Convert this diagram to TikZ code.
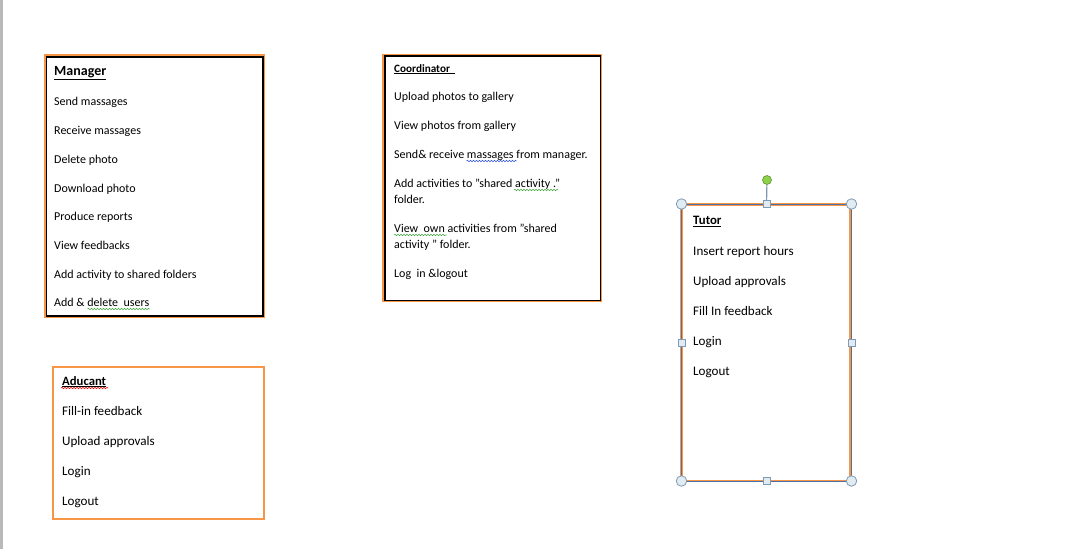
\documentclass[tikz,border=0pt]{standalone}
\usepackage{fontspec}
\setmainfont{Carlito}
\usetikzlibrary{decorations.pathmorphing}
\definecolor{boxorange}{HTML}{F79646}
\definecolor{selblue}{HTML}{4A72A8}
\definecolor{handlefill}{HTML}{E1ECF2}
\definecolor{handledraw}{HTML}{7F9AB5}
\definecolor{rotgreen}{HTML}{8CD14A}
\definecolor{spellgreen}{HTML}{3FA63F}
\definecolor{spellblue}{HTML}{3050E0}

\tikzset{
	item/.style = {anchor=base west, inner sep=0pt, font=\fontsize{12}{14}\selectfont},
	wideitem/.style = {item, font=\fontsize{13.1}{15}\selectfont},
	head/.style = {anchor=base west, inner sep=0pt, font=\bfseries\fontsize{#1}{14}\selectfont},
	panel/.style = {anchor=north west, inner sep=0pt, outer sep=0pt},
	spell/.style = {draw=#1, line width=0.55pt, decorate, decoration={snake, segment length=3pt, amplitude=0.7pt}},
	cornerhandle/.style = {circle, draw=handledraw, fill=handlefill, line width=0.8pt, minimum size=10.5pt, inner sep=0pt},
	sidehandle/.style = {rectangle, draw=handledraw, fill=handlefill, line width=0.8pt, minimum size=7pt, inner sep=0pt},
	rothandle/.style = {circle, draw=rotgreen!70!black, fill=rotgreen, line width=0.6pt, minimum size=9pt, inner sep=0pt}
}

\begin{document}
\begin{tikzpicture}[x=1pt,y=-1pt]
	\useasboundingbox (0,0) rectangle (1072,549);
	\fill[gray!55] (0,0) rectangle (3,549);

	% Manager
	\node[panel, draw=boxorange, line width=1.8pt, minimum width=219pt, minimum height=262pt] (managerback) at (45,55) {};
	\node[panel, draw=black, line width=1.2pt, minimum width=216.5pt, minimum height=259pt] (manager) at (46.5,57) {};
		\node[head=14] (mhead) at (54,75) {\underline{Manager}};
		\node[item] (m1) at (54,105) {Send massages};
		\node[item] (m2) at (54,134) {Receive massages};
		\node[item] (m3) at (54,163) {Delete photo};
		\node[item] (m4) at (54,192) {Download photo};
		\node[item] (m5) at (54,220) {Produce reports};
		\node[item] (m6) at (54,249) {View feedbacks};
		\node[item] (m7) at (54,278) {Add activity to shared folders};
		\node[item] (m8) at (54,306) {Add \& delete\ \ users};
		\draw[spell=spellgreen] ([shift={(33.5,3)}]m8.base west) -- ([shift={(95.5,3)}]m8.base west);

	% Coordinator
	\node[panel, draw=boxorange, line width=2pt, minimum width=218pt, minimum height=245.5pt] (coordback) at (383,55) {};
	\node[panel, draw=black, line width=1.2pt, minimum width=215.5pt, minimum height=244.5pt] (coordinator) at (385,56) {};
		\node[head=11.2] (chead) at (394,72) {\underline{Coordinator\ \ }};
		\node[item] (c1) at (394,100) {Upload photos to gallery};
		\node[item] (c2) at (394,129) {View photos from gallery};
		\node[item] (c3) at (394,158) {Send\& receive massages from manager.};
		\node[item] (c4) at (394,187) {Add activities to "shared activity ."};
		\node[item] (c5) at (394,203) {folder.};
		\node[item] (c6) at (394,232) {View\ \ own activities from "shared};
		\node[item] (c7) at (394,248) {activity " folder.};
		\node[item] (c8) at (394,277) {Log\ \ in \&logout};
		\draw[spell=spellblue] ([shift={(72.5,3)}]c3.base west) -- ([shift={(122.5,3)}]c3.base west);
		\draw[spell=spellgreen] ([shift={(120,3)}]c4.base west) -- ([shift={(164,3)}]c4.base west);
		\draw[spell=spellgreen] ([shift={(0,3)}]c6.base west) -- ([shift={(52.5,3)}]c6.base west);

	% Aducant
	\node[panel, draw=boxorange, line width=2pt, minimum width=211pt, minimum height=152.5pt] (aducant) at (52.5,366.5) {};
		\node[head=12.7] (ahead) at (62,385) {\underline{Aducant}};
		\draw[spell=red] ([shift={(-1,3)}]ahead.base west) -- ([shift={(46,3)}]ahead.base west);
		\node[wideitem] (a1) at (62,415) {Fill-in feedback};
		\node[wideitem] (a2) at (62,445.5) {Upload approvals};
		\node[wideitem] (a3) at (62,475.5) {Login};
		\node[wideitem] (a4) at (62,505.5) {Logout};

	% Tutor
	\node[panel, draw=boxorange, line width=2.6pt, minimum width=169pt, minimum height=276.5pt] (tutorback) at (681.5,204.5) {};
	\node[panel, draw=selblue, line width=0.9pt, minimum width=170pt, minimum height=277pt] (tutor) at (681.5,204) {};
		\node[head=12.8] (thead) at (693,224.5) {\underline{Tutor}};
		\node[wideitem] (t1) at (693,255) {Insert report hours};
		\node[wideitem] (t2) at (693,285) {Upload approvals};
		\node[wideitem] (t3) at (693,315) {Fill In feedback};
		\node[wideitem] (t4) at (693,345) {Login};
		\node[wideitem] (t5) at (693,375.5) {Logout};

	% handles of the selected Tutor box
	\node[rothandle] (rot) at (767,180) {};
	\node[sidehandle] (hn) at (tutor.north) {};
	\draw[handledraw, line width=1.2pt] (rot) -- (hn);
	\node[sidehandle] (hs) at (tutor.south) {};
	\node[sidehandle] (hw) at (tutor.west) {};
	\node[sidehandle] (he) at (tutor.east) {};
	\node[cornerhandle] (hnw) at (tutor.north west) {};
	\node[cornerhandle] (hne) at (tutor.north east) {};
	\node[cornerhandle] (hsw) at (tutor.south west) {};
	\node[cornerhandle] (hse) at (tutor.south east) {};
\end{tikzpicture}
\end{document}
